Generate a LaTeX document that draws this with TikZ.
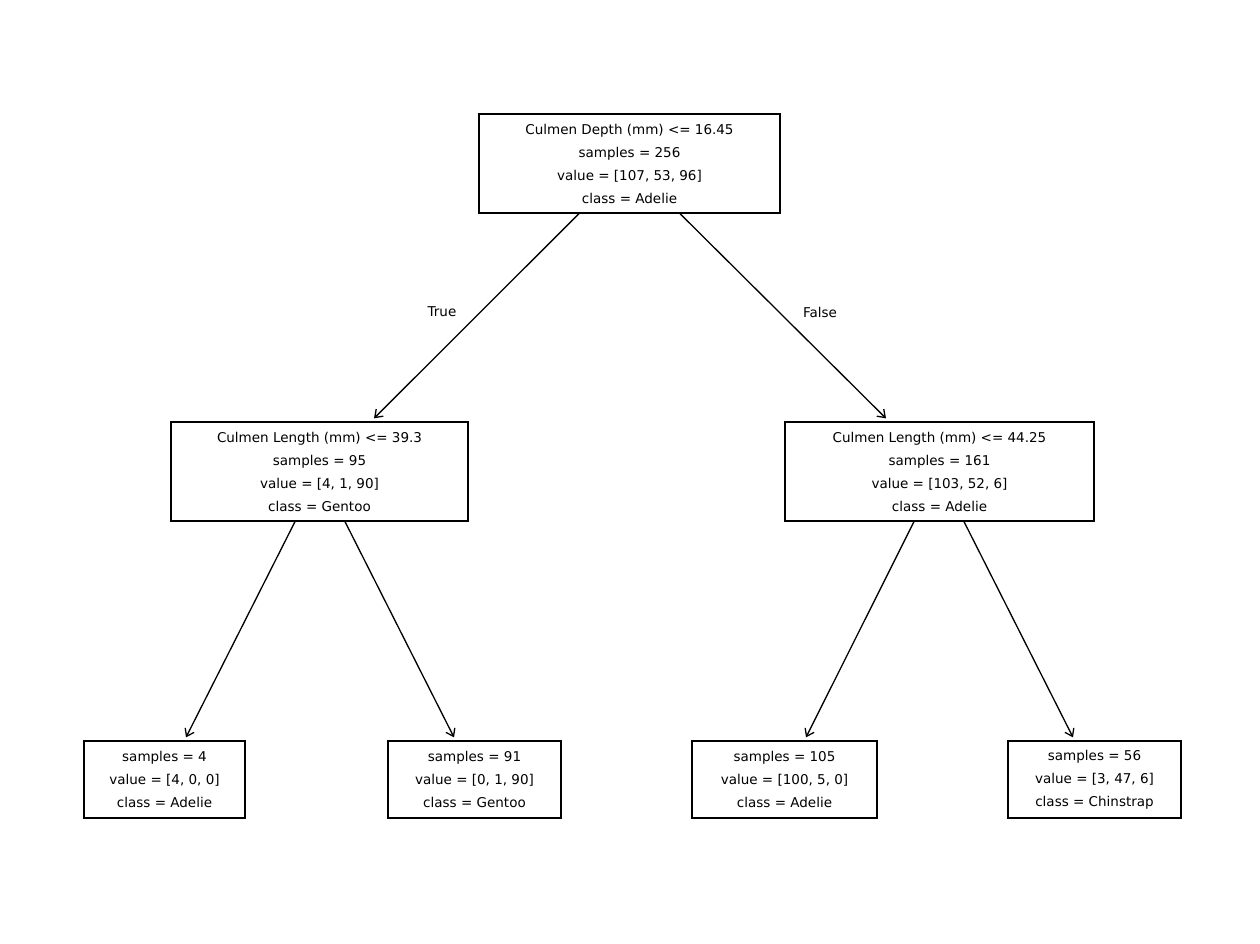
\documentclass[tikz,border=0pt]{standalone}
\usepackage{fontspec}
\setmainfont{DejaVu Sans}
\usetikzlibrary{calc,arrows.meta}
\begin{document}
\begin{tikzpicture}[x=1pt,y=-1pt,
 box/.style={draw,line width=1.3pt,align=center,inner sep=0pt,font=\fontsize{13.5}{23}\selectfont},
 edge/.style={line width=1.3pt,-{Straight Barb[length=7pt,width=10pt]}},
 lab/.style={font=\fontsize{13.5}{23}\selectfont}]
\useasboundingbox (0,0) rectangle (1260,944);
\node[box,minimum width=301pt,minimum height=99pt] (r) at (629.5,163.5) {Culmen Depth (mm) <= 16.45\\samples = 256\\value = [107, 53, 96]\\class = Adelie};
\node[box,minimum width=297pt,minimum height=99pt] (a) at (319.5,471.5) {Culmen Length (mm) <= 39.3\\samples = 95\\value = [4, 1, 90]\\class = Gentoo};
\node[box,minimum width=309pt,minimum height=99pt] (b) at (939.5,471.5) {Culmen Length (mm) <= 44.25\\samples = 161\\value = [103, 52, 6]\\class = Adelie};
\node[box,minimum width=161pt,minimum height=77pt] (c) at (164.5,779.5) {samples = 4\\value = [4, 0, 0]\\class = Adelie};
\node[box,minimum width=173pt,minimum height=77pt] (d) at (474.5,779.5) {samples = 91\\value = [0, 1, 90]\\class = Gentoo};
\node[box,minimum width=185pt,minimum height=77pt] (e) at (784.5,779.5) {samples = 105\\value = [100, 5, 0]\\class = Adelie};
\node[box,minimum width=173pt,minimum height=77pt] (f) at (1094.5,779.5) {samples = 56\\value = [3, 47, 6]\\class = Chinstrap};
\draw[edge] ($(r.south)+(-50.5,0)$) -- ($(a.north)+(54.5,-3)$);
\draw[edge] ($(r.south)+(50.5,0)$) -- ($(b.north)+(-53.5,-3)$);
\draw[edge] ($(a.south)+(-24.5,0)$) -- ($(c.north)+(21.5,-3)$);
\draw[edge] ($(a.south)+(25.5,0)$) -- ($(d.north)+(-20.5,-3)$);
\draw[edge] ($(b.south)+(-25.5,0)$) -- ($(e.north)+(21.5,-3)$);
\draw[edge] ($(b.south)+(24.5,0)$) -- ($(f.north)+(-21.5,-3)$);
\node[lab] (t) at (442,312) {True};
\node[lab] (fl) at (820,312) {False};
\end{tikzpicture}
\end{document}
